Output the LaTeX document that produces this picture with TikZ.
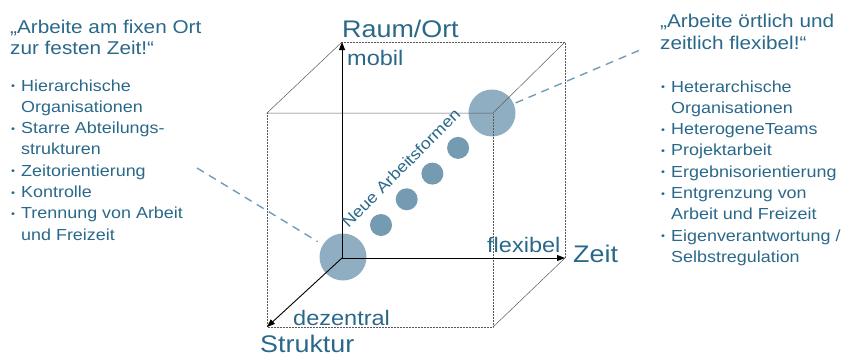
\documentclass[tikz,border=0pt]{standalone}
\usepackage{fontspec}
\setmainfont{Liberation Sans}[FakeStretch=1.12]
\usetikzlibrary{arrows.meta, positioning}

\definecolor{slideblue}{RGB}{42,104,138}
\definecolor{bubble}{RGB}{143,174,193}
\definecolor{bubbledark}{RGB}{116,155,178}
\definecolor{callblue}{RGB}{112,156,182}
\newcommand{\blt}{\makebox[10pt][l]{\raisebox{1.5pt}{\fontsize{10}{10}\selectfont\textbullet}}}
\newcommand{\ind}{\hspace*{10pt}}

\begin{document}
\begin{tikzpicture}[x=1pt, y=-1pt,
  every node/.style={text=slideblue, inner sep=0pt},
  axis/.style={line width=0.9pt, -{Triangle[length=8pt, width=6pt]}},
  edge/.style={gray!70!black, line width=0.5pt},
  hidden/.style={edge, densely dotted},
  big/.style={circle, fill=bubble, minimum size=47pt},
  small/.style={circle, fill=bubbledark, minimum size=22pt},
  callout/.style={callblue, line width=1.4pt, dash pattern=on 8pt off 6pt},
  title/.style={anchor=base west, font=\fontsize{24}{28}\selectfont},
  pole/.style={anchor=base west, font=\fontsize{21}{25}\selectfont},
  head/.style={anchor=base west, font=\fontsize{18.5}{21.5}\selectfont},
  liste/.style={anchor=base west, font=\fontsize{16}{21.3}\selectfont}]

\useasboundingbox (0,0) rectangle (842,356);

% bubbles
\node (bigL) [big] at (343,257) {};
\node (bigR) [big] at (492,113) {};
\foreach \i in {0,...,3}
  \node (dot\i) [small] at (381+25.7*\i, 225-25.7*\i) {};

% cube
\coordinate (O) at (342,258);
\coordinate (up) at (342,42);
\coordinate (rt) at (565,258);
\coordinate (st) at (267,327);
\coordinate (bk) at (565,42);
\coordinate (ftl) at (267,113);
\coordinate (ftr) at (493,113);
\coordinate (fbr) at (493,327);

\draw[hidden] (ftl) -- (st) -- (fbr) -- (ftr);
\draw[hidden] (up) -- (bk) -- (rt);
\draw[edge] (up) -- (ftl) -- (ftr) -- (bk);
\draw[edge] (fbr) -- (rt);

% axes
\draw[axis] (O) -- (up);
\draw[axis] (O) -- (rt);
\draw[axis] (O) -- (st);

\node (raum) [title] at (342,37) {Raum/Ort};
\node (mobil) [pole] at (347,65) {mobil};
\node (zeit) [title] at (573,262) {Zeit};
\node (flex) [pole] at (487,252) {flexibel};
\node (struktur) [title] at (260,352) {Struktur};
\node (dezentral) [pole] at (293,325) {dezentral};
\node (neu) [rotate=45, font=\fontsize{16}{19}\selectfont] at (401,168) {Neue Arbeitsformen};

% left side
\node (lhead) [head] at (10,33) {\begin{tabular}[t]{@{}l@{}}„Arbeite am fixen Ort\\zur festen Zeit!“\end{tabular}};
\node (llist) [liste] at (11,91) {\begin{tabular}[t]{@{}l@{}}
  \blt Hierarchische\\ \ind Organisationen\\
  \blt Starre Abteilungs-\\ \ind strukturen\\
  \blt Zeitorientierung\\
  \blt Kontrolle\\
  \blt Trennung von Arbeit\\ \ind und Freizeit\end{tabular}};

% right side
\node (rhead) [head] at (660,27.5) {\begin{tabular}[t]{@{}l@{}}„Arbeite örtlich und\\zeitlich flexibel!“\end{tabular}};
\node (rlist) [liste] at (661,92) {\begin{tabular}[t]{@{}l@{}}
  \blt Heterarchische\\ \ind Organisationen\\
  \blt HeterogeneTeams\\
  \blt Projektarbeit\\
  \blt Ergebnisorientierung\\
  \blt Entgrenzung von\\ \ind Arbeit und Freizeit\\
  \blt Eigenverantwortung /\\ \ind Selbstregulation\end{tabular}};

% callouts
\coordinate (lend) at (197,168);
\coordinate (rend) at (640,50);
\draw[callout, shorten >=6pt] (lend) -- (bigL);
\draw[callout, shorten <=2pt] (bigR) -- (rend);
\end{tikzpicture}
\end{document}
